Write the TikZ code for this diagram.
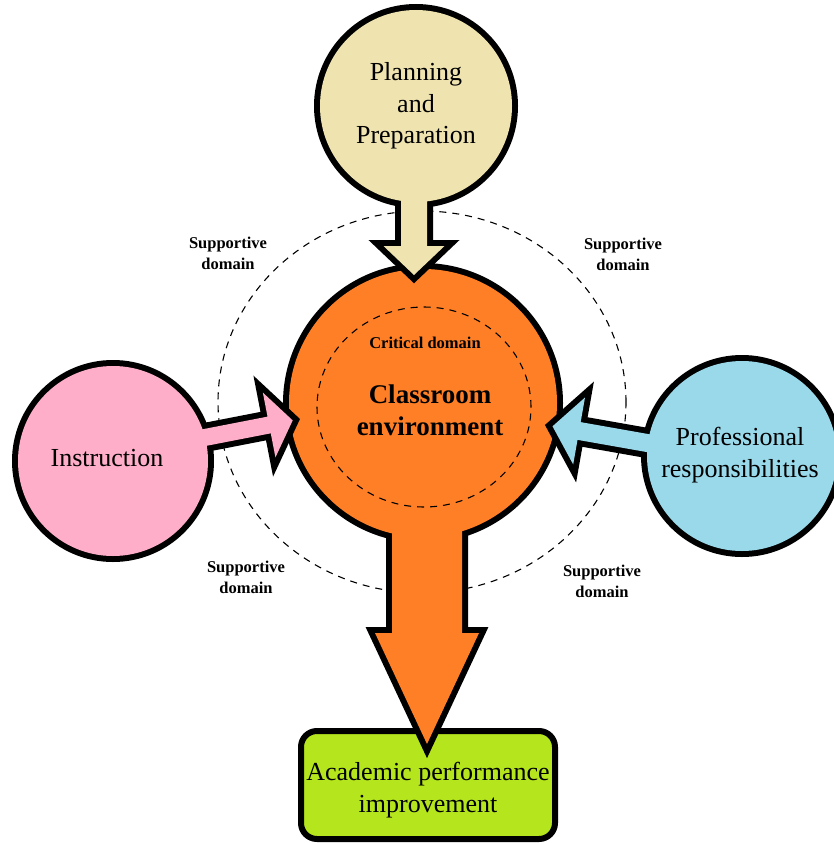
\documentclass[tikz,border=0pt]{standalone}
\usepackage{fontspec}
\setmainfont{Liberation Serif}
\definecolor{planfill}{HTML}{EFE4B0}
\definecolor{corefill}{HTML}{FF7F27}
\definecolor{instrfill}{HTML}{FFAEC9}
\definecolor{proffill}{HTML}{99D9EA}
\definecolor{resultfill}{HTML}{B5E61D}
\newcommand{\blockarrow}[4]{(0,0) -- (-#3,#2) -- (-#3,#1) -- (-#4,#1) -- (-#4,-#1) -- (-#3,-#1) -- (-#3,-#2) -- cycle}

\begin{document}
\begin{tikzpicture}[x=1pt, y=-1pt, line join=miter,
  rim/.style={circle, draw, line width=12pt, inner sep=0pt},
  disc/.style={circle, inner sep=0pt},
  big/.style={font=\fontsize{26}{31.5}\selectfont, align=center},
  small/.style={font=\fontsize{16.5}{21}\selectfont\bfseries, align=center},
  ring/.style={dash pattern=on 7pt off 6pt, line width=1.1pt}]
\useasboundingbox (0,0) rectangle (834,843);

\draw[ring] (422,402) ellipse (204pt and 191pt);

\node[draw, line width=6pt, rounded corners=16pt, fill=resultfill, minimum width=254pt, minimum height=108pt, inner sep=0pt] (result) at (428,785) {};

\node[rim, fill=corefill, minimum size=268pt] (corerim) at (423,403) {};
\begin{scope}[shift={(427,744)}, rotate=-90]
\draw[line width=12pt, fill=corefill] \blockarrow{35}{52}{111}{264};
\fill[corefill] \blockarrow{35}{52}{111}{264};
\end{scope}
\node[disc, fill=corefill, minimum size=268pt] (core) at (423,403) {};

\draw[ring] (424,407) ellipse (107pt and 100pt);
\node[small] (critlabel) at (425,343) {Critical domain};
\node[big, font=\fontsize{27}{32}\selectfont\bfseries] (corelabel) at (430,410) {Classroom\\environment};

\node[rim, fill=planfill, minimum size=192pt] (planrim) at (416,106) {};
\begin{scope}[shift={(414,275)}, rotate=-90]
\draw[line width=12pt, fill=planfill] \blockarrow{13}{30.5}{29}{105};
\fill[planfill] \blockarrow{13}{30.5}{29}{105};
\end{scope}
\node[disc, fill=planfill, minimum size=192pt] (plan) at (416,106) {};
\node[big] (planlabel) at (416,106) {Planning\\and\\Preparation};

\node[rim, fill=instrfill, minimum size=190pt] (instrrim) at (113,461) {};
\begin{scope}[shift={(292.7,420.4)}, rotate=11]
\draw[line width=12pt, fill=instrfill] \blockarrow{8.5}{33}{24}{136};
\fill[instrfill] \blockarrow{8.5}{33}{24}{136};
\end{scope}
\node[disc, fill=instrfill, minimum size=190pt] (instr) at (113,461) {};
\node[big] (instrlabel) at (107,458) {Instruction};

\node[rim, fill=proffill, minimum size=190pt] (profrim) at (742,456) {};
\begin{scope}[shift={(552.5,426.3)}, rotate=170]
\draw[line width=12pt, fill=proffill] \blockarrow{9}{34}{27}{176};
\fill[proffill] \blockarrow{9}{34}{27}{176};
\end{scope}
\node[disc, fill=proffill, minimum size=190pt] (prof) at (742,456) {};
\node[big] (proflabel) at (740,455) {Professional\\responsibilities};

\node[big] (resultlabel) at (428,790) {Academic performance\\improvement};

\node[small] (supnw) at (228,253) {Supportive\\domain};
\node[small] (supne) at (623,254) {Supportive\\domain};
\node[small] (supsw) at (246,577) {Supportive\\domain};
\node[small] (supse) at (602,581) {Supportive\\domain};

\end{tikzpicture}
\end{document}
